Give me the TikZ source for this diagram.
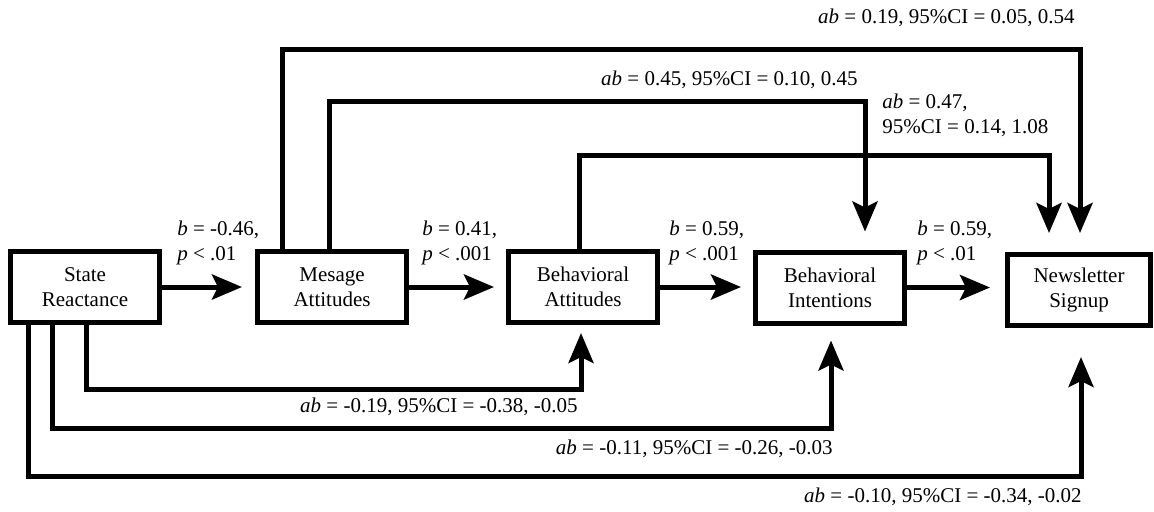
\documentclass[tikz,border=0pt]{standalone}
\usepackage{fontspec}
\setmainfont{Liberation Serif}
\usetikzlibrary{arrows.meta}
\begin{document}
\begin{tikzpicture}[x=0.5pt,y=-0.5pt,
  every node/.style={font=\fontsize{10.5}{12.5}\selectfont},
  box/.style={draw, line width=2.5pt, minimum width=74.5pt, minimum height=35.5pt, align=center, inner sep=0pt},
  conn/.style={line width=2.5pt},
  arr/.style={conn, -{Stealth[length=15pt,width=12.5pt,inset=3pt]}},
  lbl/.style={align=left, inner sep=0pt}]
\useasboundingbox (0,0) rectangle (1154,511);
% boxes
\node[box] (SR) at (85,287) {State\\Reactance};
\node[box] (MA) at (332,287) {Mesage\\Attitudes};
\node[box] (BA) at (583,287) {Behavioral\\Attitudes};
\node[box] (BI) at (830,287.5) {Behavioral\\Intentions};
\node[box, minimum width=71.5pt] (NS) at (1079,290) {Newsletter\\Signup};
% direct paths
\draw[arr, shorten >=6.5pt] (SR.east) -- (SR.east -| MA.west);
\draw[arr, shorten >=6pt] (MA.east) -- (MA.east -| BA.west);
\draw[arr, shorten >=6pt] (BA.east) -- (BA.east -| BI.west);
\draw[arr, shorten >=7.5pt] (BI.east) -- (BI.east -| NS.west);
\node[lbl, anchor=west] (l1) at (177,242.5) {\textit{b} = -0.46,\\\textit{p} < .01};
\node[lbl, anchor=west] (l2) at (422,242.5) {\textit{b} = 0.41,\\\textit{p} < .001};
\node[lbl, anchor=west] (l3) at (669,242.5) {\textit{b} = 0.59,\\\textit{p} < .001};
\node[lbl, anchor=west] (l4) at (917,242.5) {\textit{b} = 0.59,\\\textit{p} < .01};
% top indirect paths
\coordinate (t1a) at (282,49);  \coordinate (t1b) at (1080,49);
\coordinate (t2a) at (329,101); \coordinate (t2b) at (865,101);
\coordinate (t3a) at (579,155); \coordinate (t3b) at (1049,155);
\draw[arr, shorten >=9.5pt] (MA.north -| t1a) -- (t1a) -- (t1b) -- (NS.north -| t1b);
\draw[arr, shorten >=9pt] (MA.north -| t2a) -- (t2a) -- (t2b) -- (BI.north -| t2b);
\draw[arr, shorten >=9.5pt] (BA.north -| t3a) -- (t3a) -- (t3b) -- (NS.north -| t3b);
\node[lbl, anchor=east] (u1) at (1075,18) {\textit{ab} = 0.19, 95\%CI = 0.05, 0.54};
\node[lbl, anchor=east] (u2) at (858,80) {\textit{ab} = 0.45, 95\%CI = 0.10, 0.45};
\node[lbl, anchor=west] (u3) at (882,115) {\textit{ab} = 0.47,\\95\%CI = 0.14, 1.08};
% bottom indirect paths
\coordinate (b1a) at (86,389); \coordinate (b1b) at (581,389);
\coordinate (b2a) at (52,428); \coordinate (b2b) at (831,428);
\coordinate (b3a) at (28,476); \coordinate (b3b) at (1081,476);
\draw[arr, shorten >=4pt] (SR.south -| b1a) -- (b1a) -- (b1b) -- (BA.south -| b1b);
\draw[arr, shorten >=7.5pt] (SR.south -| b2a) -- (b2a) -- (b2b) -- (BI.south -| b2b);
\draw[arr, shorten >=14.5pt] (SR.south -| b3a) -- (b3a) -- (b3b) -- (NS.south -| b3b);
\node[lbl, anchor=east] (d1) at (578,407) {\textit{ab} = -0.19, 95\%CI = -0.38, -0.05};
\node[lbl, anchor=east] (d2) at (833,449) {\textit{ab} = -0.11, 95\%CI = -0.26, -0.03};
\node[lbl, anchor=east] (d3) at (1082,497) {\textit{ab} = -0.10, 95\%CI = -0.34, -0.02};
\end{tikzpicture}
\end{document}
